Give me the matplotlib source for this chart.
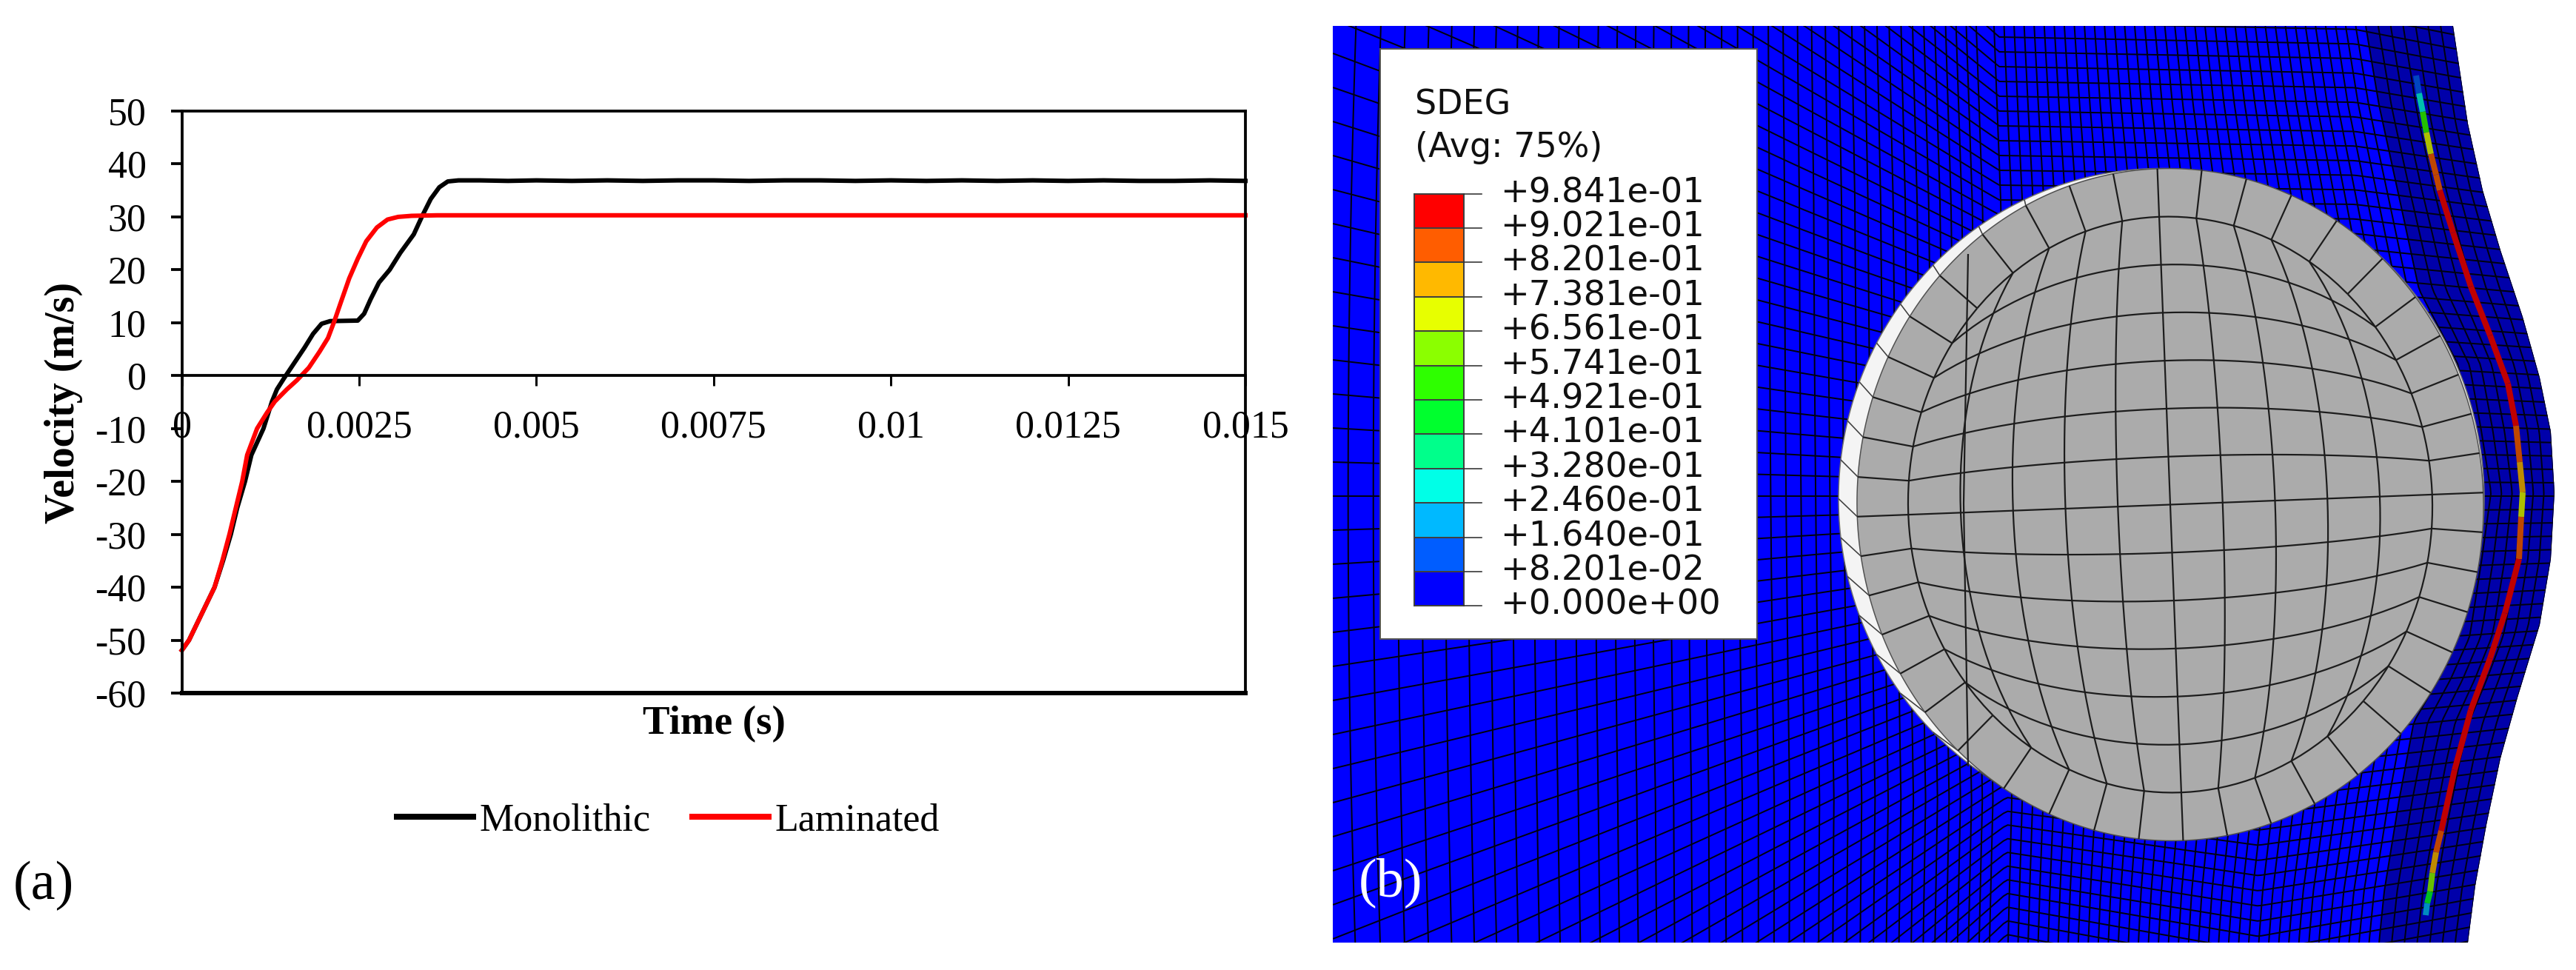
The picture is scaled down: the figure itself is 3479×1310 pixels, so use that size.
import numpy as np
import matplotlib
matplotlib.use('Agg')
import matplotlib.pyplot as plt
from matplotlib.collections import LineCollection
from matplotlib.patches import Polygon, Rectangle

## the data

time_mono = [0, 0.0001, 0.00028, 0.00046, 0.00058, 0.00069, 0.00078, 0.00089, 0.00098, 0.00115,
             0.00127, 0.00134, 0.00144, 0.00158, 0.00173, 0.00185, 0.00197, 0.00209, 0.00248,
             0.00257, 0.00266, 0.00278, 0.00293, 0.00308, 0.00327, 0.00339, 0.00351, 0.00363, 0.00375,
             0.0039, 0.0042, 0.0046, 0.005, 0.0055, 0.006, 0.0065, 0.007, 0.0075, 0.008, 0.0085, 0.009,
             0.0095, 0.01, 0.0105, 0.011, 0.0115, 0.012, 0.0125, 0.013, 0.0135, 0.014, 0.0145, 0.015]
vel_mono = [-51.9, -50, -45, -40, -35, -30, -25, -20, -15, -10,
            -4.9, -2.6, -0.5, 2.3, 5.3, 7.9, 9.8, 10.3, 10.4,
            11.7, 14.4, 17.6, 20, 23.2, 26.7, 30.2, 33.4, 35.6, 36.7,
            36.9, 36.9, 36.8, 36.9, 36.8, 36.9, 36.8, 36.9, 36.9, 36.8, 36.9, 36.9,
            36.8, 36.9, 36.8, 36.9, 36.8, 36.9, 36.8, 36.9, 36.8, 36.8, 36.9, 36.8]

time_lam = [0, 0.0001, 0.00028, 0.00046, 0.00057, 0.00067, 0.00076, 0.00085, 0.00092, 0.00106,
            0.0012, 0.00131, 0.00148, 0.00162, 0.00179, 0.00194, 0.00206, 0.00215, 0.00224, 0.00236,
            0.00248, 0.0026, 0.00275, 0.0029, 0.00305, 0.00324, 0.0036, 0.005, 0.015]
vel_lam = [-51.9, -50, -45, -40, -35, -30, -25, -20, -15, -10,
           -7, -4.9, -2.6, -0.9, 1.5, 4.5, 7.1, 10.3, 13.8, 18.4,
           22.1, 25.4, 28, 29.5, 30, 30.2, 30.3, 30.3, 30.3]

xticks = [0, 0.0025, 0.005, 0.0075, 0.01, 0.0125, 0.015]
xtick_labels = ['0', '0.0025', '0.005', '0.0075', '0.01', '0.0125', '0.015']
yticks = [-60, -50, -40, -30, -20, -10, 0, 10, 20, 30, 40, 50]

## contour legend
level_labels = ['+9.841e-01', '+9.021e-01', '+8.201e-01', '+7.381e-01', '+6.561e-01', '+5.741e-01', '+4.921e-01',
                '+4.101e-01', '+3.280e-01', '+2.460e-01', '+1.640e-01', '+8.201e-02', '+0.000e+00']
level_values = [0.9841, 0.9021, 0.8201, 0.7381, 0.6561, 0.5741, 0.4921, 0.4101, 0.3280, 0.2460, 0.1640, 0.08201, 0.0]
level_colors = ['#ff0000', '#ff5d00', '#ffb900', '#e7ff00', '#8bff00', '#2eff00', '#00ff2e',
                '#00ff8b', '#00ffe7', '#00b9ff', '#005dff', '#0000ff']

## outlines of the plate, in picture pixels
right_x = [3313, 3333, 3353, 3377, 3407, 3430, 3445, 3450, 3445, 3430, 3400, 3377, 3358, 3343, 3333]
right_y = [35, 167, 257, 338, 428, 510, 583, 665, 755, 844, 942, 1024, 1114, 1196, 1273]
dark_x = [3195, 3213, 3247, 3267, 3320, 3350, 3320, 3293, 3260, 3240, 3220, 3213]
dark_y = [35, 142, 298, 391, 493, 665, 861, 918, 975, 1081, 1204, 1273]
seam_x = [2693, 2702, 2717, 2712]
seam_y = [35, 270, 1080, 1273]

## damaged band along the plate
band_x = [3263, 3267, 3272, 3277, 3283, 3290, 3295, 3313, 3337, 3363, 3387, 3398, 3403, 3407, 3405, 3402,
          3383, 3363, 3337, 3315, 3297, 3290, 3285, 3282, 3278, 3276]
band_y = [102, 126, 151, 179, 208, 236, 257, 314, 387, 453, 518, 575, 624, 665, 698, 755,
          828, 889, 959, 1040, 1122, 1151, 1179, 1204, 1220, 1236]
band_sdeg = [0.15, 0.3, 0.55, 0.7, 0.83, 0.9, 0.95, 0.95, 0.95, 0.95, 0.95, 0.9, 0.75, 0.7, 0.85, 0.95,
             0.95, 0.95, 0.95, 0.95, 0.88, 0.8, 0.6, 0.45, 0.2]

plt.rcParams['font.family'] = ['Liberation Serif', 'DejaVu Serif']
plt.rcParams['axes.unicode_minus'] = False

W, H = 3480, 1310
PT = 0.72   # one picture pixel in points at dpi 100

fig = plt.figure(figsize=(W / 100, H / 100), dpi=100)

## (a) the velocity chart
left, right, top, bottom = 245.7, 1682, 150, 936
ax = fig.add_axes([left / W, 1 - bottom / H, (right - left) / W, (bottom - top) / H])
l1, = ax.plot(time_mono, vel_mono, color='black', lw=6 * PT, solid_joinstyle='round', label='Monolithic', clip_on=False)
l2, = ax.plot(time_lam, vel_lam, color='#ff0000', lw=6 * PT, solid_joinstyle='round', label='Laminated', clip_on=False)
ax.set_xlim(0, 0.015)
ax.set_ylim(-60, 50)
ax.spines['bottom'].set_position(('data', 0))
for s in ax.spines.values():
    s.set_linewidth(3.8 * PT)
ax.axhline(-60, color='black', lw=6 * PT, clip_on=False)
ax.set_xticks(xticks)
ax.set_xticklabels(xtick_labels)
ax.set_yticks(yticks)
ax.set_yticklabels([str(v) for v in yticks])
ax.tick_params(axis='x', length=14 * PT, width=3 * PT, pad=32 * PT, labelsize=52 * PT)
ax.tick_params(axis='y', length=15 * PT, width=3.8 * PT, pad=33 * PT, labelsize=52 * PT)

fig.text(86 / W, 1 - 544 / H, 'Velocity (m/s)', rotation=90, ha='center', va='center', fontsize=56 * PT, fontweight='bold')
fig.text(964 / W, 1 - 978 / H, 'Time (s)', ha='center', va='center', fontsize=55 * PT, fontweight='bold')
fig.text(59 / W, 1 - 1196 / H, '(a)', ha='center', va='center', fontsize=74 * PT)

leg = fig.legend(handles=[l1, l2], loc='center', bbox_to_anchor=(902.5 / W, 1 - 1108 / H), ncol=2, frameon=False,
                 fontsize=52 * PT, handlelength=1.98, handletextpad=0.17, columnspacing=1.08,
                 borderpad=0, borderaxespad=0)
for h in leg.legend_handles:
    h.set_linewidth(8 * PT)

## (b) the contour picture, drawn in picture pixels
ax2 = fig.add_axes([0, 0, 1, 1], zorder=-1)
ax2.set_xlim(0, W)
ax2.set_ylim(H, 0)
ax2.axis('off')

cy = 670
ys = np.linspace(20, 1290, 160)
xs = np.linspace(1790, 3470, 300)
rx_y = np.interp(ys, right_y, right_x)
dk_y = np.interp(ys, dark_y, dark_x)
sm_y = np.interp(ys, seam_y, seam_x)

outline = [(1800, 35)] + list(zip(right_x, right_y)) + [(1800, 1273)]
plate = Polygon(outline, closed=True, facecolor='#0000ff', edgecolor='none', zorder=1)
ax2.add_patch(plate)
dark = ax2.fill(list(dark_x) + list(right_x)[::-1], list(dark_y) + list(right_y)[::-1], color='#0000aa', lw=0, zorder=1.5)[0]
dark.set_clip_path(plate)

lines = []
# rows draw together towards the ball
for k in range(-60, 61):
    if k < 0:
        dy = np.interp(xs, [1800, 2700, 3180, 3460], [46, 20, 19.7, 18])
    else:
        dy = np.interp(xs, [1800, 2710, 3050, 3300, 3460], [46, 18.5, 20.5, 19, 18])
    lines.append(np.column_stack([xs, cy + k * dy]))
# coarse columns left of the seam
x = 1820.7
while x < 2680:
    f = (x - 1800) / 893
    lines.append(np.column_stack([x + 2.7e-5 * (ys - cy) ** 2 * (1 - f) + (sm_y - 2693) * f ** 2, ys]))
    x = x + 34 - 0.0244 * (x - 1820)
# fine columns up to the dark layer
for j in range(38):
    lines.append(np.column_stack([sm_y + (dk_y - sm_y) * j / 37, ys]))
# layers of the dark part
for j in range(1, 8):
    lines.append(np.column_stack([dk_y + (rx_y - dk_y) * j / 7, ys]))
mesh = LineCollection(lines, colors='#000010', linewidths=2 * PT, zorder=2)
ax2.add_collection(mesh)
mesh.set_clip_path(plate)

# damaged band, darker than the legend colours because of the shading
band_pts = np.column_stack([band_x, band_y])
band_segs = [band_pts[i:i + 2] for i in range(len(band_sdeg))]
band_cols = []
for v in band_sdeg:
    i = int(np.searchsorted(-np.array(level_values), -v))
    c = matplotlib.colors.to_rgb(level_colors[min(max(i - 1, 0), 11)])
    band_cols.append(tuple(0.75 * np.array(c)))
band = LineCollection(band_segs, colors=band_cols, linewidths=8 * PT, capstyle='butt', zorder=3)
ax2.add_collection(band)

# the ball
bx, by = 2931, 681.5
rx_out, ry_out = 423, 454
rx_in, ry_in = 354, 389
tilt = np.radians(-2.2)


def turn(px, py):
    return (bx + px * np.cos(tilt) - py * np.sin(tilt), by + px * np.sin(tilt) + py * np.cos(tilt))


th = np.linspace(0, 2 * np.pi, 400)
rim_cy, rim_ry = by - 8, 446
rim_x = 2919 + 436 * np.cos(th)
rim_y = rim_cy + rim_ry * np.sin(th)
ax2.fill(rim_x, rim_y, facecolor='#f4f4f4', edgecolor='#707070', lw=1.5 * PT, zorder=4)
fx, fy = turn(rx_out * np.cos(th), ry_out * np.sin(th))
ax2.fill(fx, fy, facecolor='#ababab', edgecolor='#505050', lw=1.5 * PT, zorder=5)

ball_lines = []
us = np.linspace(-1, 1, 11)
vs = np.linspace(-1, 1, 13)
t = np.linspace(-1, 1, 41)
for u in us:
    ball_lines.append(np.column_stack(turn(rx_in * u * np.sqrt(1 - t ** 2 / 2), ry_in * t * np.sqrt(1 - u ** 2 / 2))))
for v in vs:
    ball_lines.append(np.column_stack(turn(rx_in * t * np.sqrt(1 - v ** 2 / 2), ry_in * v * np.sqrt(1 - t ** 2 / 2))))
# spokes of the outer ring, with their short ends across the light rim
edge = [(u, s) for u in us for s in (-1, 1)] + [(s, v) for v in vs[1:-1] for s in (-1, 1)]
rim_lines = []
for u, v in edge:
    cx_ = u * np.sqrt(1 - v ** 2 / 2)
    cy_ = v * np.sqrt(1 - u ** 2 / 2)
    ball_lines.append(np.array([turn(rx_in * cx_, ry_in * cy_), turn(rx_out * cx_, ry_out * cy_)]))
    if cx_ < -0.3:
        p = turn(rx_out * cx_, ry_out * cy_)
        rim_lines.append(np.array([p, (2919 + 436 * cx_, rim_cy + rim_ry * cy_)]))
# hidden edge showing through the ball
ball_lines.append(np.array([(2658, 343), (2652, 680), (2658, 1035)]))
ax2.add_collection(LineCollection(ball_lines, colors='#1c1c1c', linewidths=2.2 * PT, zorder=6))
ax2.add_collection(LineCollection(rim_lines, colors='#404040', linewidths=1.6 * PT, zorder=4.5))

# contour legend
ax2.add_patch(Rectangle((1864, 66), 508.6, 796.6, facecolor='white', edgecolor='#555555', lw=2 * PT, zorder=7))
ax2.text(1911, 142, 'SDEG', family='DejaVu Sans', fontsize=46 * PT, va='center', ha='left', color='#101010', zorder=8)
ax2.text(1911, 200, '(Avg: 75%)', family='DejaVu Sans', fontsize=46 * PT, va='center', ha='left', color='#101010', zorder=8)
bar_top, step = 261.6, 46.4
for i, c in enumerate(level_colors):
    ax2.add_patch(Rectangle((1909.6, bar_top + i * step), 67.9, step, facecolor=c, edgecolor='#404040', lw=2 * PT, zorder=8))
for i, lab in enumerate(level_labels):
    yy = bar_top + i * step
    ax2.plot([1977.5, 2001], [yy, yy], color='#303030', lw=1.6 * PT, zorder=8)
    ax2.text(2026.6, yy - 1, lab, family='DejaVu Sans', fontsize=46.4 * PT, va='center', ha='left', color='#101010', zorder=8)

ax2.text(1878.5, 1192, '(b)', color='white', fontsize=74 * PT, ha='center', va='center', zorder=9)

plt.savefig('out.png', dpi=100)
